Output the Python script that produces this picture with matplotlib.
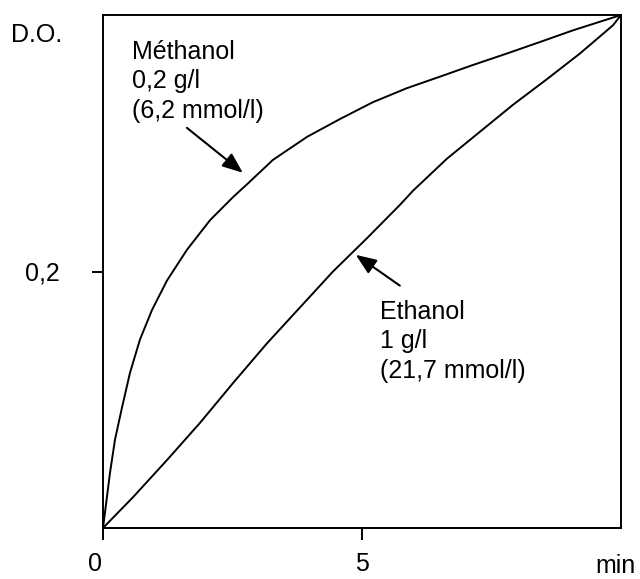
import matplotlib
matplotlib.use("Agg")
import matplotlib.pyplot as plt
import matplotlib.transforms as mtransforms

plt.rcParams['font.family'] = ['Liberation Sans', 'DejaVu Sans']

# Data (time in min, optical density)
methanol_t = [0, 0.135, 0.232, 0.367, 0.521, 0.714, 0.946, 1.236, 1.622, 2.066, 2.51,
              2.78, 3.28, 3.94, 4.58, 5.21, 5.87, 6.51, 7.14, 7.80, 8.44, 9.07, 10]
methanol_do = [0, 0.043, 0.069, 0.094, 0.121, 0.147, 0.170, 0.193, 0.217, 0.240, 0.258,
               0.268, 0.287, 0.305, 0.319, 0.332, 0.343, 0.352, 0.361, 0.370, 0.379, 0.388, 0.400]
ethanol_t = [0, 0.579, 1.236, 1.873, 2.51, 3.166, 3.803, 4.44, 5.097, 5.734, 5.985,
             6.641, 7.278, 7.915, 8.571, 9.208, 9.846, 10]
ethanol_do = [0, 0.024, 0.053, 0.082, 0.113, 0.144, 0.172, 0.200, 0.226, 0.252, 0.263,
              0.288, 0.309, 0.330, 0.350, 0.370, 0.392, 0.400]

x_ticks = [0, 5]
x_tick_labels = ['0', '5']
y_ticks = [0.2]
y_tick_labels = ['0,2']

fig = plt.figure(figsize=(6.4, 5.79), dpi=100)
ax = fig.add_axes([103/640, 1 - 528/579, (621-103)/640, (528-15)/579])

ax.plot(methanol_t, methanol_do, color='black', lw=1.4, solid_joinstyle='round')
ax.plot(ethanol_t, ethanol_do, color='black', lw=1.4, solid_joinstyle='round')

ax.set_xlim(0, 10)
ax.set_ylim(0, 0.4)
for s in ax.spines.values():
    s.set_linewidth(1.4)

ax.set_xticks(x_ticks)
ax.set_xticklabels(x_tick_labels, fontsize=18)
ax.set_yticks(y_ticks)
ax.set_yticklabels(y_tick_labels, fontsize=18)
ax.tick_params(axis='x', direction='out', length=8.6, width=1.4, pad=9)
ax.tick_params(axis='y', direction='out', length=8, width=1.4, pad=23)

# shift the "0" label a little to the left as in the reference
lbl0 = ax.get_xticklabels()[0]
lbl0.set_transform(lbl0.get_transform() + mtransforms.ScaledTranslation(-8/100, 0, fig.dpi_scale_trans))

ax.text(9.9, -0.0347, 'min', fontsize=18, ha='center', va='baseline')
fig.text(37/640, 1 - 35/579, 'D.O.', fontsize=18, ha='center', va='center')

ax.text(0.56, 0.3197, 'Méthanol\n0,2 g/l\n(6,2 mmol/l)', fontsize=18,
        ha='left', va='baseline', linespacing=1.3)
ax.text(5.35, 0.117, 'Ethanol\n1 g/l\n(21,7 mmol/l)', fontsize=18,
        ha='left', va='baseline', linespacing=1.3)

arrow_props = dict(arrowstyle='-|>,head_length=1.25,head_width=0.5', color='black', lw=1.5,
                   shrinkA=0, shrinkB=0, mutation_scale=10)
ax.annotate('', xy=(2.70, 0.277), xytext=(1.62, 0.312), arrowprops=arrow_props)
ax.annotate('', xy=(4.88, 0.213), xytext=(5.73, 0.189), arrowprops=arrow_props)

fig.savefig('out.png', dpi=100)
